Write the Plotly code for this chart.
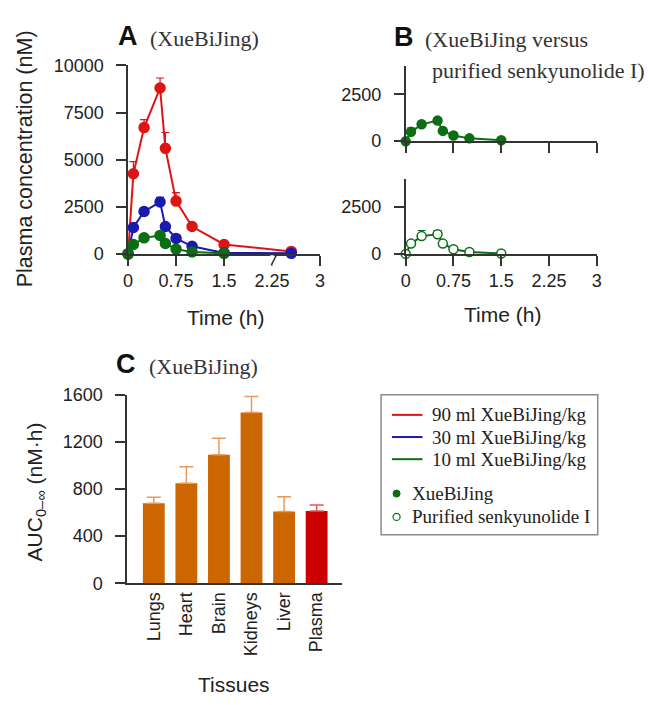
import plotly.graph_objects as go

W, H = 648, 705

# ---------------- data ----------------
times_a = [0, 0.083, 0.25, 0.5, 0.583, 0.75, 1.0, 1.5, 2.55]
red_90 = [0, 4250, 6700, 8800, 5600, 2800, 1450, 500, 130]
red_90_err = [0, 640, 420, 530, 840, 450, 0, 0, 0]
blue_30 = [0, 1400, 2250, 2750, 1450, 820, 400, 50, 30]
blue_30_err = [0, 0, 200, 250, 100, 200, 60, 0, 0]
times_g = [0, 0.083, 0.25, 0.5, 0.583, 0.75, 1.0, 1.5]
green_10 = [0, 500, 850, 980, 550, 250, 100, 30]
green_10_err = [0, 0, 80, 120, 60, 0, 0, 0]

times_b = [0, 0.083, 0.25, 0.5, 0.583, 0.75, 1.0, 1.5]
xbj_b = [0, 500, 900, 1100, 550, 300, 150, 50]
xbj_b_err = [0, 200, 80, 150, 50, 50, 50, 100]
pure_b = [0, 550, 950, 1050, 550, 250, 100, 20]
pure_b_err = [0, 150, 300, 200, 150, 100, 80, 100]

tissues = ["Lungs", "Heart", "Brain", "Kidneys", "Liver", "Plasma"]
auc = [680, 850, 1090, 1450, 610, 614]
auc_err = [50, 140, 140, 135, 124, 50]

xticks_time = [0, 0.75, 1.5, 2.25, 3]
xticklabels_time = ["0", "0.75", "1.5", "2.25", "3"]
yticks_a = [0, 2500, 5000, 7500, 10000]
yticklabels_a = ["0", "2500", "5000", "7500", "10000"]

# ---------------- style ----------------
RED = "#DD1515"
BLUE = "#1A1AB0"
GREEN = "#0B6E12"
ORANGE = "#CC6600"
ORANGE_ERR = "#E89A5E"
PLASMA = "#CC0000"
PLASMA_ERR = "#E05A5A"
AX = "#333333"
SANS = "Liberation Sans, Arial, sans-serif"
SERIF = "Liberation Serif, Times New Roman, serif"
TXT = "#222222"


def X(px):
    return px / W


def Y(py):
    return 1 - py / H


fig = go.Figure()


def line_trace(x, y, err, color, xa, ya, size=10, open_=False):
    return go.Scatter(
        x=x, y=y, mode="lines+markers", xaxis=xa, yaxis=ya,
        line=dict(color=color, width=2),
        marker=dict(size=size, color="white" if open_ else color,
                    line=dict(color=color, width=1.5)),
        error_y=dict(type="data", symmetric=False, array=err,
                     arrayminus=[0] * len(err), color=color,
                     thickness=1.2, width=4),
        cliponaxis=False, showlegend=False,
    )


# Panel A
fig.add_trace(line_trace(times_a, red_90, red_90_err, RED, "x", "y"))
fig.add_trace(line_trace(times_a, blue_30, blue_30_err, BLUE, "x", "y"))
fig.add_trace(line_trace(times_g, green_10, green_10_err, GREEN, "x", "y"))

# Panel B
fig.add_trace(line_trace(times_b, xbj_b, xbj_b_err, GREEN, "x2", "y2", size=9))
fig.add_trace(line_trace(times_b, pure_b, pure_b_err, GREEN, "x3", "y3",
                         size=9, open_=True))

# Panel C (tissues orange, plasma red)
fig.add_trace(go.Bar(
    x=tissues[:-1], y=auc[:-1], xaxis="x4", yaxis="y4",
    marker=dict(color=ORANGE, line=dict(width=0)), width=0.67,
    error_y=dict(type="data", symmetric=False, array=auc_err[:-1],
                 arrayminus=[0] * (len(auc_err) - 1), color=ORANGE_ERR,
                 thickness=1.5, width=7),
    showlegend=False,
))
fig.add_trace(go.Bar(
    x=tissues[-1:], y=auc[-1:], xaxis="x4", yaxis="y4",
    marker=dict(color=PLASMA, line=dict(width=0)), width=0.67,
    error_y=dict(type="data", symmetric=False, array=auc_err[-1:],
                 arrayminus=[0], color=PLASMA_ERR, thickness=1.5, width=7),
    showlegend=False,
))

tickfont = dict(family=SANS, size=18, color=TXT)
common = dict(showgrid=False, zeroline=False, showline=True, linecolor=AX,
              linewidth=1.5, ticks="outside", ticklen=10, tickwidth=1.5,
              tickcolor=AX, tickfont=tickfont)
ycommon = dict(common, ticklabelstandoff=9)

fig.update_layout(
    width=W, height=H, autosize=False,
    margin=dict(l=0, r=0, t=0, b=0),
    paper_bgcolor="white", plot_bgcolor="white",
    showlegend=False, barmode="overlay",
    xaxis=dict(domain=[X(125), X(320)], range=[0, 3], anchor="y",
               tickvals=xticks_time, ticktext=xticklabels_time, **common),
    yaxis=dict(domain=[Y(251), Y(57)], range=[0, 10000], anchor="x",
               tickvals=yticks_a, ticktext=yticklabels_a, **ycommon),
    xaxis2=dict(domain=[X(407), X(601)], range=[0, 3], anchor="y2",
                tickvals=xticks_time, showticklabels=False, **common),
    yaxis2=dict(domain=[Y(135), Y(58)], range=[0, 4000], anchor="x2",
                tickvals=[0, 2500], ticktext=["0", "2500"], **ycommon),
    xaxis3=dict(domain=[X(407), X(601)], range=[0, 3], anchor="y3",
                tickvals=xticks_time, ticktext=xticklabels_time, **common),
    yaxis3=dict(domain=[Y(251), Y(174)], range=[0, 4000], anchor="x3",
                tickvals=[0, 2500], ticktext=["0", "2500"], **ycommon),
    xaxis4=dict(domain=[X(124), X(342)], range=[-0.82, 5.77], anchor="y4",
                showgrid=False, zeroline=False, showline=True, linecolor=AX,
                linewidth=1.5, ticks="", tickangle=-90, tickfont=tickfont,
                categoryorder="array", categoryarray=tissues),
    yaxis4=dict(domain=[Y(590), Y(396)], range=[0, 1600], anchor="x4",
                tickvals=[0, 400, 800, 1200, 1600],
                ticktext=["0", "400", "800", "1200", "1600"], **ycommon),
)

shapes = []
# axis break at 2.25 in panel A: hide tick and draw slash
shapes.append(dict(type="line", xref="x", yref="paper", x0=2.25, x1=2.25,
                   y0=Y(252.5), y1=Y(263), line=dict(color="white", width=4),
                   layer="above"))
shapes.append(dict(type="line", xref="paper", yref="paper",
                   x0=X(270.5), y0=Y(262.5), x1=X(276.5), y1=Y(250.5),
                   line=dict(color=AX, width=1.5), layer="above"))

# legend box
shapes.append(dict(type="rect", xref="paper", yref="paper",
                   x0=X(382), x1=X(602), y0=Y(540), y1=Y(396),
                   line=dict(color="#8a8a8a", width=1.5)))
leg_lines = [(RED, 416.7, "90 ml XueBiJing/kg"),
             (BLUE, 439.5, "30 ml XueBiJing/kg"),
             (GREEN, 462.3, "10 ml XueBiJing/kg")]
annotations = []
for col, yy, txt in leg_lines:
    shapes.append(dict(type="line", xref="paper", yref="paper",
                       x0=X(393), x1=X(424), y0=Y(yy), y1=Y(yy),
                       line=dict(color=col, width=2)))
    annotations.append(dict(text=txt, x=X(432), y=Y(yy), xref="paper",
                            yref="paper", xanchor="left", yanchor="middle",
                            showarrow=False,
                            font=dict(family=SERIF, size=19, color=TXT)))
r = 3.6
shapes.append(dict(type="circle", xref="paper", yref="paper",
                   x0=X(397.7 - r), x1=X(397.7 + r), y0=Y(497.7 + r),
                   y1=Y(497.7 - r), fillcolor=GREEN,
                   line=dict(color=GREEN, width=1)))
shapes.append(dict(type="circle", xref="paper", yref="paper",
                   x0=X(397.7 - r), x1=X(397.7 + r), y0=Y(521.7 + r),
                   y1=Y(521.7 - r), fillcolor="white",
                   line=dict(color=GREEN, width=1.2)))
for yy, txt in [(497.7, "XueBiJing"), (521.7, "Purified senkyunolide I")]:
    annotations.append(dict(text=txt, x=X(411.5), y=Y(yy), xref="paper",
                            yref="paper", xanchor="left", yanchor="middle",
                            showarrow=False,
                            font=dict(family=SERIF, size=19, color=TXT)))


def ann(text, x, y, size, family=SANS, color=TXT, xanchor="center",
        angle=0, bold=False):
    if bold:
        text = "<b>" + text + "</b>"
    annotations.append(dict(text=text, x=X(x), y=Y(y), xref="paper",
                            yref="paper", xanchor=xanchor, yanchor="middle",
                            showarrow=False, textangle=angle,
                            font=dict(family=family, size=size, color=color)))


# panel titles
ann("A", 113, 27, 27, xanchor="left", bold=True, color="#111111")
ann("(XueBiJing)", 145, 29, 22, family=SERIF, xanchor="left", color="#333333")
ann("B", 393, 28, 27, xanchor="left", bold=True, color="#111111")
ann("(XueBiJing versus", 425, 30, 22, family=SERIF, xanchor="left",
    color="#333333")
ann("purified senkyunolide I)", 432, 62, 22, family=SERIF, xanchor="left",
    color="#333333")
ann("C", 111, 364, 27, xanchor="left", bold=True, color="#111111")
ann("(XueBiJing)", 144, 367, 22, family=SERIF, xanchor="left",
    color="#333333")

# axis titles
ann("Plasma concentration (nM)", 20, 153, 21.5, angle=-90)
ann("Time (h)", 224, 316, 21)
ann("Time (h)", 505, 313, 21)
ann("AUC<sub>0–∞</sub> (nM·h)", 31, 496, 21, angle=-90)
ann("Tissues", 233, 694, 21)

fig.update_layout(shapes=shapes, annotations=annotations)

fig.write_html(
    "out.html",
    config={"displayModeBar": False},
    post_script="document.body.style.margin='0';"
                "document.body.style.padding='0';"
                "document.documentElement.style.overflow='hidden';",
)
